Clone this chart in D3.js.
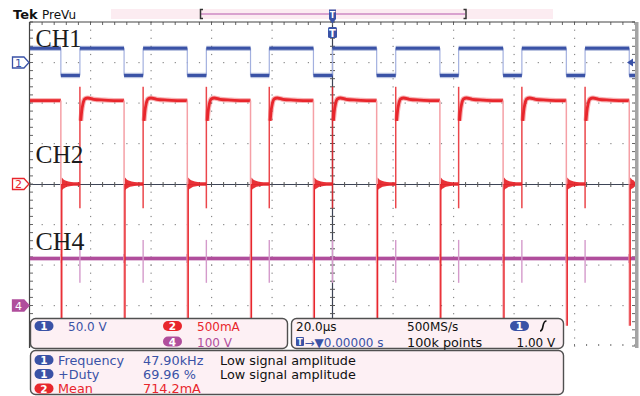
<!DOCTYPE html>
<html>
<head>
<meta charset="utf-8">
<script src="https://cdn.jsdelivr.net/npm/d3@7"></script>
<style>
  html, body { margin: 0; padding: 0; background: #fff; }
  svg { display: block; }
  text { font-family: "DejaVu Sans", sans-serif; }
</style>
</head>
<body>
<svg id="scope" width="640" height="396"></svg>
<script>
// ---- Acquisition settings ----
const timeDomain = [-100, 100];      // µs, 20 µs/div over 10 divisions
const divDomain = [-4, 4];           // vertical divisions

const ch1PerDiv = 50;    // V/div
const ch1Offset = 3;     // divisions
const ch2PerDiv = 500;   // mA/div
const ch2Offset = 0;
const ch4PerDiv = 100;   // V/div
const ch4Offset = -3;

// ---- Switching edges seen on CH1 (µs) ----
const riseTimes = [-83.5, -62.6, -41.7, -20.9, 0, 20.9, 41.7, 62.6, 83.5];
const fallTimes = [-89.8, -68.9, -48.0, -27.1, -6.3, 14.6, 35.5, 56.4, 77.3, 98.1];

// ---- CH1 levels (V) ----
const ch1High = 17.5;
const ch1Low = -16.0;

// ---- CH2 current (mA) ----
const ch2High = 1030;
const ch2Low = 0;
// current after each turn-on: [µs after edge, mA]
const ch2RiseProfile = [[0.3, 780], [0.6, 900], [1.0, 990], [1.6, 1050], [2.6, 1062], [4.5, 1046], [8, 1036], [12, 1030]];
// ringing envelope after turn-off: [µs after edge, half-width mA]
const ch2RingEnvelope = [[0.0, 80], [0.5, 60], [1.2, 42], [2.2, 30], [4.0, 23], [20, 22]];
const ch2OnSpike = [1200, -300];
const ch2OffSpike = [1030, -1750];

// ---- CH4 (V) ----
const ch4Level = 116;
const ch4RiseSpike = [162, 56];
const ch4FallSpike = [127, 105];

// ---- Readouts ----
const chanScaleReadout = [["1", "50.0 V"], ["2", "500mA"], ["4", "100 V"]];
const measLabels = ["Frequency", "+Duty", "Mean"];
const measChannels = ["1", "1", "2"];
const measValues = ["47.90kHz", "69.96 %", "714.2mA"];
const measNotes = ["Low signal amplitude", "Low signal amplitude", ""];

const colors = {
  "1": "#3a52a6", "2": "#e8262c", "4": "#b04e9c",
  ch1Edge: "#a3b0df", ch2Pale: "#f5a0a6", ch4Pale: "#d49acb"
};

const svg = d3.select("#scope");
const x = d3.scaleLinear().domain(timeDomain).range([30, 635]);
const y = d3.scaleLinear().domain(divDomain).range([346, 22]);
const y1 = v => y(v / ch1PerDiv + ch1Offset);
const y2 = v => y(v / ch2PerDiv + ch2Offset);
const y4 = v => y(v / ch4PerDiv + ch4Offset);

// ---- Graticule ----
const grid = svg.append("g");
const minorT = d3.range(-100, 100.01, 4);
const minorD = d3.range(-4, 4.001, 0.2);
const majorT = d3.range(-80, 81, 20).filter(t => t !== 0);
const majorD = [-3, -2, -1, 1, 2, 3];

majorT.forEach(t => {
  grid.selectAll(null).data(minorD).enter().append("rect")
    .attr("x", x(t) - 0.5).attr("y", d => y(d) - 0.5)
    .attr("width", 1.2).attr("height", 1.2).attr("fill", "#8a8a8a");
});
majorD.forEach(dv => {
  grid.selectAll(null).data(minorT).enter().append("rect")
    .attr("x", d => x(d) - 0.5).attr("y", y(dv) - 0.5)
    .attr("width", 1.2).attr("height", 1.2).attr("fill", "#8a8a8a");
});
// center cross with minor ticks
grid.append("line").attr("x1", x(-100)).attr("x2", x(100)).attr("y1", y(0) + 0.5).attr("y2", y(0) + 0.5)
  .attr("stroke", "#3d4456").attr("stroke-width", 1.2);
grid.append("line").attr("x1", x(0)).attr("x2", x(0)).attr("y1", y(4)).attr("y2", 348)
  .attr("stroke", "#3d4456").attr("stroke-width", 1.2);
grid.selectAll(null).data(minorT).enter().append("line")
  .attr("x1", d => x(d)).attr("x2", d => x(d)).attr("y1", y(0) - 2).attr("y2", y(0) + 3)
  .attr("stroke", "#555").attr("stroke-width", 1);
grid.selectAll(null).data(minorD).enter().append("line")
  .attr("x1", x(0) - 2.5).attr("x2", x(0) + 2.5).attr("y1", d => y(d)).attr("y2", d => y(d))
  .attr("stroke", "#555").attr("stroke-width", 1);
// border ticks
grid.selectAll(null).data(minorT).enter().append("line")
  .attr("x1", d => x(d)).attr("x2", d => x(d)).attr("y1", y(4)).attr("y2", y(4) + 3)
  .attr("stroke", "#666").attr("stroke-width", 1);
grid.selectAll(null).data(minorT).enter().append("line")
  .attr("x1", d => x(d)).attr("x2", d => x(d)).attr("y1", y(-4) - 2).attr("y2", y(-4))
  .attr("stroke", "#777").attr("stroke-width", 1);
grid.selectAll(null).data(minorD).enter().append("line")
  .attr("x1", x(-100)).attr("x2", x(-100) + 3).attr("y1", d => y(d)).attr("y2", d => y(d))
  .attr("stroke", "#666").attr("stroke-width", 1);
grid.selectAll(null).data(minorD).enter().append("line")
  .attr("x1", x(100) - 3).attr("x2", x(100)).attr("y1", d => y(d)).attr("y2", d => y(d))
  .attr("stroke", "#666").attr("stroke-width", 1);
// frame
grid.append("line").attr("x1", x(-100) - 0.5).attr("x2", x(100)).attr("y1", y(4)).attr("y2", y(4))
  .attr("stroke", "#444").attr("stroke-width", 1.2);
grid.append("line").attr("x1", x(-100) - 0.5).attr("x2", x(-100) - 0.5).attr("y1", y(4)).attr("y2", 348)
  .attr("stroke", "#444").attr("stroke-width", 1.2);
grid.append("rect").attr("x", x(100)).attr("y", y(4)).attr("width", 3.5).attr("height", 348 - y(4))
  .attr("fill", "#a4a4a4");

// ---- Trace helpers ----
const traces = svg.append("g");
function band(g, pts, sy, color, core, halo) {
  const line = d3.line().x(d => x(d[0])).y(d => sy(d[1])).curve(d3.curveMonotoneX);
  g.append("path").attr("d", line(pts)).attr("fill", "none")
    .attr("stroke", color).attr("stroke-width", halo).attr("stroke-opacity", 0.35);
  g.append("path").attr("d", line(pts)).attr("fill", "none")
    .attr("stroke", color).attr("stroke-width", core);
}
function vline(g, t, v0, v1, sy, color, w, op) {
  g.append("line").attr("x1", x(t)).attr("x2", x(t)).attr("y1", sy(v0)).attr("y2", sy(v1))
    .attr("stroke", color).attr("stroke-width", w).attr("stroke-opacity", op == null ? 1 : op);
}

// state intervals built from the edge lists
const edges = riseTimes.map(t => ({ t, type: "rise" }))
  .concat(fallTimes.map(t => ({ t, type: "fall" })))
  .sort((a, b) => a.t - b.t);
const intervals = [];
let prevT = timeDomain[0], prevHigh = edges[0].type === "fall", prevType = null;
edges.forEach(e => {
  intervals.push({ t0: prevT, t1: e.t, high: prevHigh, startEdge: prevType });
  prevT = e.t; prevHigh = e.type === "rise"; prevType = e.type;
});
intervals.push({ t0: prevT, t1: timeDomain[1], high: prevHigh, startEdge: prevType });

// ---- CH4 ----
const g4 = traces.append("g");
band(g4, [[timeDomain[0], ch4Level], [timeDomain[1], ch4Level]], y4, colors["4"], 2.8, 5);
riseTimes.forEach(t => vline(g4, t, ch4RiseSpike[0], ch4RiseSpike[1], y4, colors.ch4Pale, 1.4));
fallTimes.forEach(t => vline(g4, t, ch4FallSpike[0], ch4FallSpike[1], y4, colors["4"], 1.6));

// ---- CH2 ----
const g2 = traces.append("g");
const ringArea = d3.area().x(d => x(d[0])).y0(d => y2(ch2Low - d[1])).y1(d => y2(ch2Low + d[1]))
  .curve(d3.curveMonotoneX);
intervals.forEach(iv => {
  if (iv.high) {
    let pts;
    if (iv.startEdge === "rise") {
      pts = ch2RiseProfile.map(p => [iv.t0 + p[0], p[1]]).filter(p => p[0] < iv.t1);
      pts.push([iv.t1, ch2High]);
    } else {
      pts = [[iv.t0, ch2High], [iv.t1, ch2High]];
    }
    band(g2, pts, y2, colors["2"], 2.8, 5);
  } else {
    const env = ch2RingEnvelope.map(p => [iv.t0 + 0.3 + p[0], p[1]]).filter(p => p[0] < iv.t1);
    env.push([iv.t1, ch2RingEnvelope[ch2RingEnvelope.length - 1][1]]);
    g2.append("path").attr("d", ringArea(env)).attr("fill", colors["2"]).attr("fill-opacity", 0.95);
  }
});
fallTimes.forEach(t => {
  vline(g2, t, ch2OffSpike[0], ch2OffSpike[1], y2, colors.ch2Pale, 1.5);
  vline(g2, t + 0.3, 0, ch2OffSpike[1], y2, colors["2"], 1.4);
});
riseTimes.forEach(t => {
  vline(g2, t, ch2OnSpike[0], ch2OnSpike[1], y2, colors["2"], 1.5, 0.85);
});

// ---- CH1 ----
const g1 = traces.append("g");
edges.forEach(e => vline(g1, e.t, ch1High, ch1Low, y1, colors.ch1Edge, 1.2));
intervals.forEach(iv => {
  const v = iv.high ? ch1High : ch1Low;
  band(g1, [[iv.t0, v], [iv.t1, v]], y1, colors["1"], 3, 5.4);
});

// ---- Channel names ----
const names = [["CH1", 46.7, 46], ["CH2", 162.7, 48], ["CH4", 250, 49]];
svg.selectAll(null).data(names).enter().append("text")
  .attr("x", 35.5).attr("y", d => d[1])
  .attr("textLength", d => d[2]).attr("lengthAdjust", "spacingAndGlyphs")
  .style("font-family", "'Liberation Serif', 'Times New Roman', serif")
  .style("font-size", "26px").attr("fill", "#1c1c1c").text(d => d[0]);

// ---- Ground markers on the left ----
const markers = [["1", ch1Offset, false], ["2", ch2Offset, false], ["4", ch4Offset, true]];
markers.forEach(([ch, off, filled]) => {
  const cy = y(off);
  const c = colors[ch];
  svg.append("path")
    .attr("d", `M12.5,${cy - 5.5} H24 L29,${cy} L24,${cy + 5.5} H12.5 Z`)
    .attr("fill", filled ? c : "#fff").attr("stroke", c).attr("stroke-width", 1.3);
  svg.append("text").attr("x", 18.5).attr("y", cy + 4).attr("text-anchor", "middle")
    .style("font-size", "11px").attr("fill", filled ? "#fff" : c).text(ch);
});
// trigger level marker on the right
svg.append("path").attr("d", `M627,${y1(0)} L633,${y1(0) - 4} L633,${y1(0) + 4} Z`).attr("fill", colors["1"]);
svg.append("line").attr("x1", 630).attr("x2", 635).attr("y1", y1(0)).attr("y2", y1(0))
  .attr("stroke", colors["1"]).attr("stroke-width", 1.5);

// ---- Top bar ----
svg.append("text").attr("x", 13).attr("y", 18.5).style("font-size", "13px").style("font-weight", "bold")
  .attr("fill", "#111").text("Tek");
svg.append("text").attr("x", 42).attr("y", 18.5).style("font-size", "12px").attr("fill", "#111").text("PreVu");
svg.append("rect").attr("x", 111).attr("y", 9).attr("width", 442).attr("height", 10).attr("fill", "#fcecf1");
svg.append("line").attr("x1", 201).attr("x2", 465).attr("y1", 14).attr("y2", 14)
  .attr("stroke", "#d9a2cf").attr("stroke-width", 2);
svg.append("path").attr("d", "M203,9.5 H200.5 V18.5 H203").attr("fill", "none").attr("stroke", "#333").attr("stroke-width", 1.5);
svg.append("path").attr("d", "M463.5,9.5 H466 V18.5 H463.5").attr("fill", "none").attr("stroke", "#333").attr("stroke-width", 1.5);
// trigger position markers
const tx = x(0);
svg.append("path").attr("d", `M${tx - 3.5},9.5 H${tx + 3.5} V19 L${tx},23.5 L${tx - 3.5},19 Z`).attr("fill", colors["1"]);
svg.append("text").attr("x", tx).attr("y", 18).attr("text-anchor", "middle").style("font-size", "8px")
  .style("font-weight", "bold").attr("fill", "#fff").text("T");
svg.append("rect").attr("x", tx - 4.5).attr("y", 27).attr("width", 9).attr("height", 11).attr("rx", 1.5).attr("fill", colors["1"]);
svg.append("text").attr("x", tx).attr("y", 36.5).attr("text-anchor", "middle").style("font-size", "10px")
  .style("font-weight", "bold").attr("fill", "#fff").text("T");

// ---- Readout boxes ----
function box(x0, y0, w, h) {
  svg.append("rect").attr("x", x0).attr("y", y0).attr("width", w).attr("height", h).attr("rx", 5)
    .attr("fill", "#fdf0f4").attr("stroke", "#505050").attr("stroke-width", 1.4);
}
function pill(cx, cy, ch) {
  svg.append("rect").attr("x", cx - 9.5).attr("y", cy - 5).attr("width", 19).attr("height", 10).attr("rx", 5)
    .attr("fill", colors[ch]);
  svg.append("text").attr("x", cx).attr("y", cy + 4).attr("text-anchor", "middle").style("font-size", "10.5px")
    .style("font-weight", "bold").attr("fill", "#fff").text(ch);
}
function label(x0, yb, str, color, size) {
  svg.append("text").attr("x", x0).attr("y", yb).style("font-size", (size || 12) + "px")
    .attr("fill", color || "#111").text(str);
}

box(30.5, 318.5, 257, 30);
pill(44, 326, chanScaleReadout[0][0]);
label(68, 331, chanScaleReadout[0][1], colors["1"]);
pill(172.5, 326, chanScaleReadout[1][0]);
label(197, 331, chanScaleReadout[1][1], colors["2"]);
pill(172.5, 341.5, chanScaleReadout[2][0]);
label(197, 346.5, chanScaleReadout[2][1], colors["4"]);

box(291.5, 318.5, 272, 30);
label(296, 331, "20.0µs");
label(407, 331, "500MS/s");
pill(519.5, 326, "1");
svg.append("path").attr("d", "M540,331 C542,331 542.5,329 543,326 C543.5,323 544,321 546.5,321")
  .attr("fill", "none").attr("stroke", "#111").attr("stroke-width", 1.6);
svg.append("rect").attr("x", 296).attr("y", 337).attr("width", 8).attr("height", 9).attr("rx", 1).attr("fill", colors["1"]);
svg.append("text").attr("x", 300).attr("y", 344.5).attr("text-anchor", "middle").style("font-size", "8px")
  .style("font-weight", "bold").attr("fill", "#fff").text("T");
label(304.5, 346.5, "→▼0.00000 s", colors["1"]);
label(407, 346.5, "100k points", null, 12.8);
label(516.5, 346.5, "1.00 V");

box(30.5, 350.5, 533, 44);
const rowY = [360, 374, 388.5];
measLabels.forEach((m, i) => {
  const ch = measChannels[i];
  pill(44, rowY[i], ch);
  label(58, rowY[i] + 4.5, m, colors[ch], 12.8);
  label(143, rowY[i] + 4.5, measValues[i], colors[ch], 12.8);
  if (measNotes[i]) label(220, rowY[i] + 4.5, measNotes[i], null, 12.8);
});
</script>
</body>
</html>
